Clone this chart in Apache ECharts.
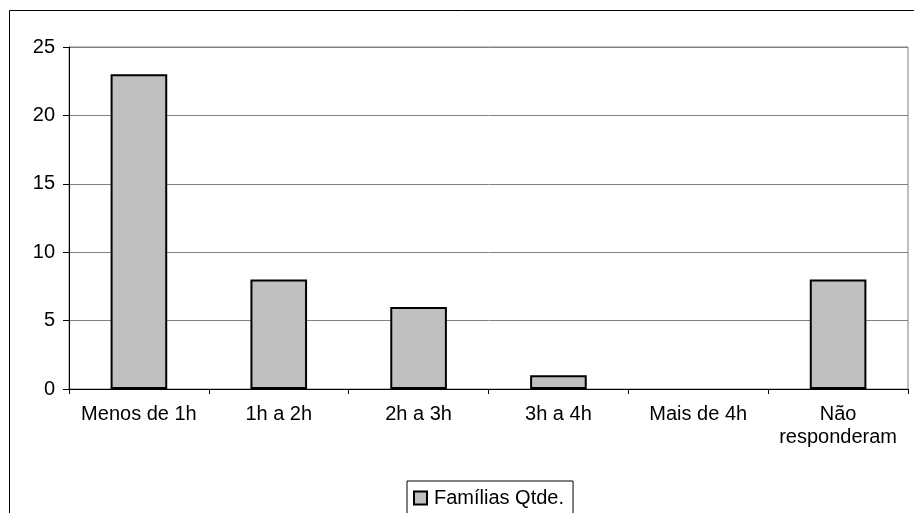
<!DOCTYPE html>
<html>
<head>
<meta charset="utf-8">
<title>Famílias Qtde.</title>
<script src="https://cdn.jsdelivr.net/npm/echarts@6/dist/echarts.min.js"></script>
<style>
  html, body { margin: 0; padding: 0; background: #fff; }
  #chart { width: 914px; height: 513px; }
</style>
</head>
<body>
<div id="chart"></div>
<script>
// Time ranges (x-axis categories)
const categories = ['Menos de 1h', '1h a 2h', '2h a 3h', '3h a 4h', 'Mais de 4h', 'Não\nresponderam'];
// Number of families in each range
const familyCounts = [23, 8, 6, 1, 0, 8];
const seriesName = 'Famílias Qtde.';
// Value axis range
const yMin = 0;
const yMax = 25;
const yStep = 5;

const FONT = '"Liberation Sans", Arial, sans-serif';
const FONT_SIZE = 20;

const chart = echarts.init(document.getElementById('chart'), null, { renderer: 'canvas' });

// empty categories get no outline so nothing is drawn on the axis
const barData = familyCounts.map(v => (v === 0 ? { value: v, itemStyle: { borderWidth: 0 } } : v));

chart.setOption({
  animation: false,
  backgroundColor: '#ffffff',
  textStyle: { fontFamily: FONT, color: '#000' },
  graphic: [
    {
      // outer chart-area frame (runs off the right and bottom edges)
      type: 'rect',
      silent: true,
      z: -1,
      shape: { x: 9.5, y: 10.5, width: 2000, height: 2000 },
      style: { fill: 'none', stroke: '#000', lineWidth: 1 }
    }
  ],
  grid: {
    left: 69,
    top: 47,
    right: 6,
    bottom: 124,
    show: true,
    borderColor: '#808080',
    borderWidth: 1,
    backgroundColor: '#ffffff'
  },
  legend: {
    data: [seriesName],
    left: 407,
    top: 481,
    orient: 'horizontal',
    padding: [7, 9, 20, 6],
    borderColor: '#000',
    borderWidth: 1,
    backgroundColor: '#fff',
    icon: 'rect',
    itemWidth: 13,
    itemHeight: 13,
    itemGap: 0,
    itemStyle: { color: '#C0C0C0', borderColor: '#000', borderWidth: 2 },
    textStyle: { fontFamily: FONT, fontSize: FONT_SIZE, color: '#000', padding: [0, 0, 0, 2] }
  },
  xAxis: {
    type: 'category',
    data: categories,
    axisLine: { show: true, lineStyle: { color: '#000', width: 1 } },
    axisTick: { show: true, alignWithLabel: false, length: 5, lineStyle: { color: '#000' } },
    axisLabel: {
      interval: 0,
      margin: 14,
      fontFamily: FONT,
      fontSize: FONT_SIZE,
      lineHeight: 23,
      color: '#000',
      align: 'center'
    },
    splitLine: { show: false }
  },
  yAxis: {
    type: 'value',
    min: yMin,
    max: yMax,
    interval: yStep,
    axisLine: { show: true, lineStyle: { color: '#000', width: 1 } },
    axisTick: { show: true, inside: false, length: 6, lineStyle: { color: '#000' } },
    axisLabel: { margin: 14, fontFamily: FONT, fontSize: FONT_SIZE, color: '#000' },
    splitLine: { show: true, lineStyle: { color: '#808080', width: 1 } }
  },
  series: [
    {
      name: seriesName,
      type: 'bar',
      data: barData,
      barWidth: '40.5%',
      itemStyle: { color: '#C0C0C0', borderColor: '#000', borderWidth: 2 },
      emphasis: { disabled: true }
    }
  ]
});
</script>
</body>
</html>
